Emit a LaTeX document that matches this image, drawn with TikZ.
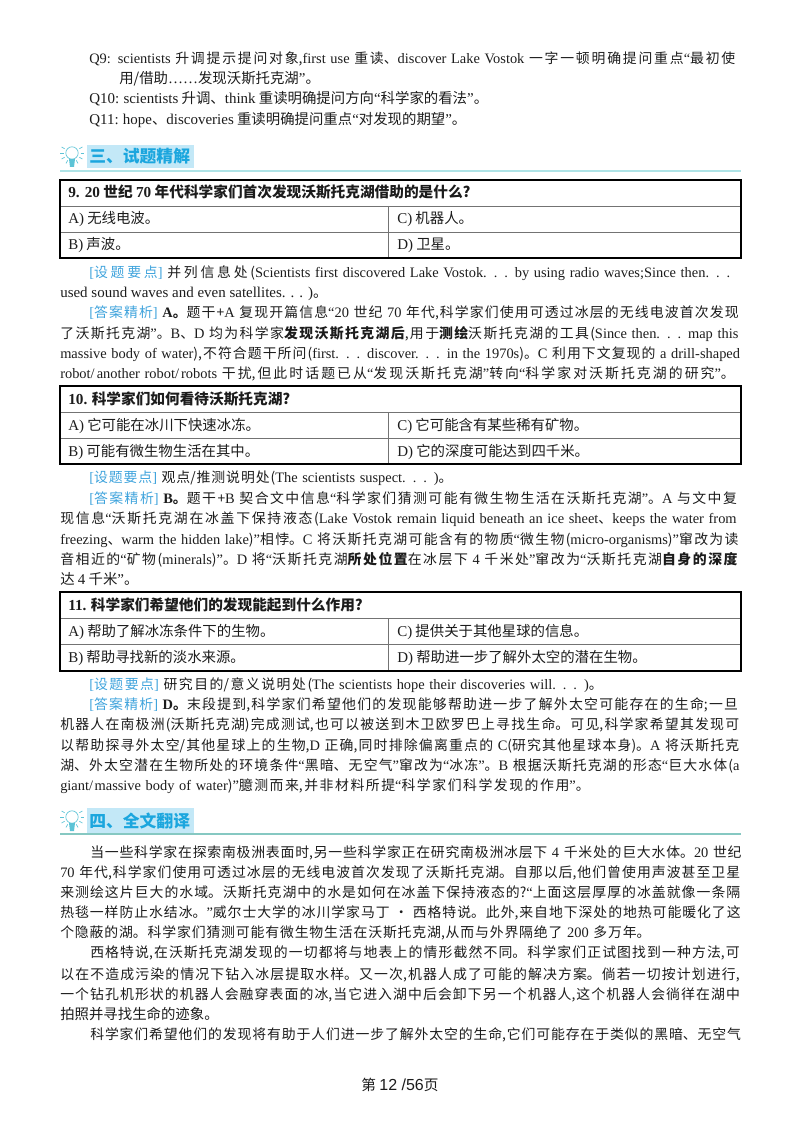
\documentclass[tikz,border=0pt]{standalone}
\usepackage{fontspec}
\setmainfont{Noto Sans CJK SC}
\newfontfamily\lat[Scale=1.04]{Liberation Serif}
\newfontfamily\sanslat{Liberation Sans}
\XeTeXlinebreaklocale "zh"
\XeTeXlinebreakskip=0pt plus 4pt minus 0.8pt
\tolerance=10000
\hbadness=10000
\hfuzz=3pt
\definecolor{tagblue}{HTML}{3FA3DC}
\definecolor{headblue}{HTML}{1BA6DE}
\definecolor{headband}{HTML}{C3E8F7}
\definecolor{ruleA}{HTML}{AEE3E6}
\definecolor{ruleB}{HTML}{86C8C2}
\definecolor{bulbcol}{HTML}{5CC3D6}
\definecolor{inkcol}{HTML}{1C1C1C}
\newcommand{\E}[1]{{\lat #1}}
\newcommand{\ql}{{\lat “}}
\newcommand{\qr}{{\lat ”}}
\newcommand{\shetag}{{\color{tagblue}\E{[}设题要点\E{]}}}
\newcommand{\datag}{{\color{tagblue}\E{[}答案精析\E{]}}}
\newcommand{\body}{\fontsize{10.4}{12}\selectfont}
\tikzstyle{page}=[x=0.75pt, y=-0.75pt, text=inkcol]
\tikzstyle{fl}=[anchor=base west, inner sep=0pt, text width=514pt, font=\body, execute at begin node={\parfillskip=0pt\relax}]
\tikzstyle{il}=[anchor=base west, inner sep=0pt, text width=491.5pt, font=\body, execute at begin node={\parfillskip=0pt\relax}]
\tikzstyle{pl}=[anchor=base west, inner sep=0pt, font=\fontsize{10.8}{12}\selectfont]
\tikzstyle{qu}=[anchor=base west, inner sep=0pt, font=\fontsize{11}{12}\selectfont\bfseries]
\tikzstyle{band}=[fill=headband, draw=none]
\tikzstyle{head}=[anchor=base west, inner sep=0pt, text=headblue, font=\fontsize{12.6}{14}\selectfont\bfseries]
\tikzstyle{outer}=[draw=black, line width=1.4pt]
\tikzstyle{inner}=[draw=black!55, line width=0.7pt]
\newcommand{\bulbicon}{%
	\draw[bulbcol, line width=0.5pt] (0,0) circle (6.2);
	\fill[bulbcol] (-3,6) -- (3,6) -- (2,14) -- (-2,14) -- cycle;
	\foreach \a in {-30,0,30,60,90,120,150,180,210}
		\draw[bulbcol, line width=0.5pt] (\a:8.5) -- (\a:12);
}

\begin{document}
\begin{tikzpicture}[page]
	\useasboundingbox (0,0) rectangle (800,1130);
	%% top lines
	\node[il] (q9a) at (89,64) {\E{Q9:} \E{scientists} 升调提示提问对象,\E{first use} 重读、\E{discover Lake Vostok} 一字一顿明确提问重点\ql 最初使};
	\node[pl] (q9b) at (119,84) {用/借助\E{……}发现沃斯托克湖\qr。};
	\node[pl] (q10) at (89,104) {\E{Q10:} \E{scientists} 升调、\E{think} 重读明确提问方向\ql 科学家的看法\qr。};
	\node[pl] (q11) at (89,125) {\E{Q11:} \E{hope}、\E{discoveries} 重读明确提问重点\ql 对发现的期望\qr。};
	%%%%%%
	\fill[band] (87,145) rectangle (194,168);
	\begin{scope}[shift={(72,153)}]
		\bulbicon
	\end{scope}
	\node[head] (h3) at (89,163) {三、试题精解};
	\draw[ruleA, line width=1pt] (60,171) -- (741,171);
	%%%%%%
	\draw[inner] (60,206) -- (741,206);
	\draw[inner] (60,232) -- (741,232);
	\draw[inner] (388,206) -- (388,258);
	\draw[outer] (60,180) rectangle (741,258);
	\node[qu] (t9) at (68,198) {\E{9. 20} 世纪 \E{70} 年代科学家们首次发现沃斯托克湖借助的是什么?};
	\node[pl] (t9a) at (68,224) {\E{A)} 无线电波。};
	\node[pl] (t9c) at (397,224) {\E{C)} 机器人。};
	\node[pl] (t9b) at (68,250) {\E{B)} 声波。};
	\node[pl] (t9d) at (397,250) {\E{D)} 卫星。};
	%%
	\node[il] (s9a) at (89,277) {\shetag\ 并列信息处(\E{Scientists first discovered Lake Vostok. . . by using radio waves;Since then. . .}};
	\node[pl] (s9b) at (60,297) {\E{used sound waves and even satellites. . . )}。};
	\node[il] (a9a) at (89,317) {\datag\ {\bfseries\E{A}。}题干+\E{A} 复现开篇信息\ql\E{20} 世纪 \E{70} 年代,科学家们使用可透过冰层的无线电波首次发现};
	\node[fl] (a9b) at (60,338) {了沃斯托克湖\qr。\E{B}、\E{D} 均为科学家{\bfseries 发现沃斯托克湖后},用于{\bfseries 测绘}沃斯托克湖的工具(\E{Since then. . . map this}};
	\node[fl] (a9c) at (60,358) {\E{massive body of water}),不符合题干所问(\E{first. . . discover. . . in the 1970s})。\E{C} 利用下文复现的 \E{a drill-shaped}};
	\node[fl] (a9d) at (60,378) {\E{robot/another robot/robots} 干扰,但此时话题已从\ql 发现沃斯托克湖\qr 转向\ql 科学家对沃斯托克湖的研究\qr。};
	%%%%%%
	\draw[inner] (60,412) -- (741,412);
	\draw[inner] (60,438) -- (741,438);
	\draw[inner] (388,412) -- (388,464);
	\draw[outer] (60,386) rectangle (741,464);
	\node[qu] (t10) at (68,404) {\E{10.} 科学家们如何看待沃斯托克湖?};
	\node[pl] (t10a) at (68,430) {\E{A)} 它可能在冰川下快速冰冻。};
	\node[pl] (t10c) at (397,430) {\E{C)} 它可能含有某些稀有矿物。};
	\node[pl] (t10b) at (68,456) {\E{B)} 可能有微生物生活在其中。};
	\node[pl] (t10d) at (397,456) {\E{D)} 它的深度可能达到四千米。};
	%%
	\node[il, text width=276pt] (s10) at (89,482) {\shetag\ 观点/推测说明处(\E{The scientists suspect. . . )}。};
	\node[il] (a10a) at (89,503) {\datag\ {\bfseries\E{B}。}题干+\E{B} 契合文中信息\ql 科学家们猜测可能有微生物生活在沃斯托克湖\qr。\E{A} 与文中复};
	\node[fl] (a10b) at (60,523) {现信息\ql 沃斯托克湖在冰盖下保持液态(\E{Lake Vostok remain liquid beneath an ice sheet}、\E{keeps the water from}};
	\node[fl] (a10c) at (60,544) {\E{freezing}、\E{warm the hidden lake})\qr 相悖。\E{C} 将沃斯托克湖可能含有的物质\ql 微生物(\E{micro-organisms})\qr 窜改为读};
	\node[fl] (a10d) at (60,564) {音相近的\ql 矿物(\E{minerals})\qr。\E{D} 将\ql 沃斯托克湖{\bfseries 所处位置}在冰层下 \E{4} 千米处\qr 窜改为\ql 沃斯托克湖{\bfseries 自身的深度}};
	\node[pl] (a10e) at (60,584) {达 \E{4} 千米\qr。};
	%%%%%%
	\draw[inner] (60,618) -- (741,618);
	\draw[inner] (60,644) -- (741,644);
	\draw[inner] (388,618) -- (388,671);
	\draw[outer] (60,592) rectangle (741,671);
	\node[qu] (t11) at (68,610) {\E{11.} 科学家们希望他们的发现能起到什么作用?};
	\node[pl] (t11a) at (68,636) {\E{A)} 帮助了解冰冻条件下的生物。};
	\node[pl] (t11c) at (397,636) {\E{C)} 提供关于其他星球的信息。};
	\node[pl] (t11b) at (68,662) {\E{B)} 帮助寻找新的淡水来源。};
	\node[pl] (t11d) at (397,662) {\E{D)} 帮助进一步了解外太空的潜在生物。};
	%%
	\node[il, text width=391pt] (s11) at (89,689) {\shetag\ 研究目的/意义说明处(\E{The scientists hope their discoveries will. . . )}。};
	\node[il] (a11a) at (89,709) {\datag\ {\bfseries\E{D}。}末段提到,科学家们希望他们的发现能够帮助进一步了解外太空可能存在的生命;一旦};
	\node[fl] (a11b) at (60,729) {机器人在南极洲(沃斯托克湖)完成测试,也可以被送到木卫欧罗巴上寻找生命。可见,科学家希望其发现可};
	\node[fl] (a11c) at (60,750) {以帮助探寻外太空/其他星球上的生物,\E{D} 正确,同时排除偏离重点的 \E{C}(研究其他星球本身)。\E{A} 将沃斯托克};
	\node[fl] (a11d) at (60,770) {湖、外太空潜在生物所处的环境条件\ql 黑暗、无空气\qr 窜改为\ql 冰冻\qr。\E{B} 根据沃斯托克湖的形态\ql 巨大水体(\E{a}};
	\node[fl, text width=403pt] (a11e) at (60,790) {\E{giant/massive body of water})\qr 臆测而来,并非材料所提\ql 科学家们科学发现的作用\qr。};
	%%%%%%
	\fill[band] (87,808) rectangle (194,833);
	\begin{scope}[shift={(72,817)}]
		\bulbicon
	\end{scope}
	\node[head] (h4) at (89,827) {四、全文翻译};
	\draw[ruleB, line width=1pt] (60,834) -- (741,834);
	%%%%%%
	\node[il] (p1a) at (90,857) {当一些科学家在探索南极洲表面时,另一些科学家正在研究南极洲冰层下 \E{4} 千米处的巨大水体。\E{20} 世纪};
	\node[fl] (p1b) at (60,877) {\E{70} 年代,科学家们使用可透过冰层的无线电波首次发现了沃斯托克湖。自那以后,他们曾使用声波甚至卫星};
	\node[fl] (p1c) at (60,897) {来测绘这片巨大的水域。沃斯托克湖中的水是如何在冰盖下保持液态的?\ql 上面这层厚厚的冰盖就像一条隔};
	\node[fl] (p1d) at (60,917) {热毯一样防止水结冰。\qr 威尔士大学的冰川学家马丁 · 西格特说。此外,来自地下深处的地热可能暖化了这};
	\node[fl, text width=446pt] (p1e) at (60,937) {个隐蔽的湖。科学家们猜测可能有微生物生活在沃斯托克湖,从而与外界隔绝了 \E{200} 多万年。};
	\node[il] (p2a) at (90,957) {西格特说,在沃斯托克湖发现的一切都将与地表上的情形截然不同。科学家们正试图找到一种方法,可};
	\node[fl] (p2b) at (60,979) {以在不造成污染的情况下钻入冰层提取水样。又一次,机器人成了可能的解决方案。倘若一切按计划进行,};
	\node[fl] (p2c) at (60,999) {一个钻孔机形状的机器人会融穿表面的冰,当它进入湖中后会卸下另一个机器人,这个机器人会徜徉在湖中};
	\node[pl] (p2d) at (60,1019) {拍照并寻找生命的迹象。};
	\node[il] (p3a) at (90,1039) {科学家们希望他们的发现将有助于人们进一步了解外太空的生命,它们可能存在于类似的黑暗、无空气};
	%%%%%%
	\node[anchor=base, inner sep=0pt, font=\fontsize{11}{13}\selectfont] (foot) at (400,1090) {第 {\sanslat\fontsize{12}{14}\selectfont 12 /56}页};
\end{tikzpicture}
\end{document}
